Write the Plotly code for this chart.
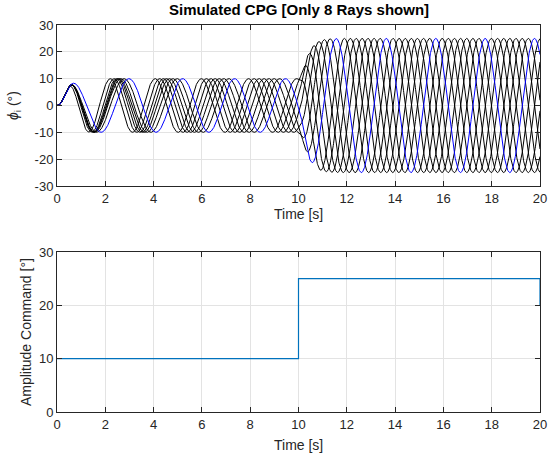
import numpy as np
import plotly.graph_objects as go

# ---- data ----
cmd_time = [0, 10, 10, 20, 20]          # amplitude command breakpoints [s]
cmd_value = [10, 10, 25, 25, 20]        # amplitude command [deg]

n_rays = 8                              # rays shown
cpg_freq_hz = 0.49                      # oscillation frequency
phase_lag_rad = 2 * np.pi / 8           # desired lag between neighbouring rays
coupling_w = 0.15                       # phase coupling weight
amp_gain_a = 10.0                       # amplitude convergence gain
ray_colors = ["black"] * 7 + ["blue"]

x_ticks = [0, 2, 4, 6, 8, 10, 12, 14, 16, 18, 20]
y1_ticks = [-30, -20, -10, 0, 10, 20, 30]
y2_ticks = [0, 10, 20, 30]

# ---- CPG simulation driven by the amplitude command ----
dt = 0.001
t_end = 20.0
n_steps = int(round(t_end / dt))
record_every = 10
cmd_t = np.array(cmd_time, dtype=float)
cmd_v = np.array(cmd_value, dtype=float)


def command(t):
    idx = np.searchsorted(cmd_t, t + 1e-12, side="right") - 1
    return cmd_v[max(idx, 0)]


omega = 2 * np.pi * cpg_freq_hz
theta = np.zeros(n_rays)
r = np.zeros(n_rays)
rd = np.zeros(n_rays)
times = []
outs = []
for k in range(n_steps + 1):
    t = k * dt
    if k % record_every == 0:
        times.append(t)
        outs.append(r * np.sin(theta))
    R = command(t)
    c = np.zeros(n_rays)
    c[:-1] += coupling_w * r[1:] * np.sin(theta[1:] - theta[:-1] + phase_lag_rad)
    c[1:] += coupling_w * r[:-1] * np.sin(theta[:-1] - theta[1:] - phase_lag_rad)
    dtheta = omega + c
    rdd = amp_gain_a * (amp_gain_a / 4.0 * (R - r) - rd)
    theta = theta + dt * dtheta
    r = r + dt * rd
    rd = rd + dt * rdd
times = np.array(times)
outs = np.array(outs)

fig = go.Figure()
order = [i for i in range(n_rays) if ray_colors[i] != "blue"] + \
        [i for i in range(n_rays) if ray_colors[i] == "blue"]
for i in order:
    fig.add_trace(go.Scatter(x=times, y=outs[:, i], mode="lines",
                             line=dict(color=ray_colors[i], width=1),
                             showlegend=False, xaxis="x", yaxis="y"))

fig.add_trace(go.Scatter(x=cmd_time, y=cmd_value, mode="lines",
                         line=dict(color="#0072BD", width=1.2),
                         showlegend=False, xaxis="x2", yaxis="y2"))

ax_col = "#262626"
grid_col = "#e3e3e3"
fam = "Liberation Sans, Arial, sans-serif"
font = dict(family=fam, size=13, color=ax_col)
label_font = dict(family=fam, size=14, color=ax_col)
common = dict(showline=True, linecolor=ax_col, linewidth=1, mirror="ticks",
              ticks="inside", ticklen=5, tickcolor=ax_col, tickwidth=1,
              showgrid=True, gridcolor=grid_col, gridwidth=1, zeroline=False,
              tickfont=font)

fig.update_layout(
    width=555, height=455,
    margin=dict(l=57, r=8, t=25, b=43),
    paper_bgcolor="white", plot_bgcolor="white",
    font=font,
    xaxis=dict(domain=[0, 1], range=[0, 20], tickvals=x_ticks,
               ticktext=[str(v) for v in x_ticks], anchor="y", **common),
    yaxis=dict(domain=[0.584, 1], range=[-30, 30], tickvals=y1_ticks,
               ticktext=[str(v) for v in y1_ticks], anchor="x", **common),
    xaxis2=dict(domain=[0, 1], range=[0, 20], tickvals=x_ticks,
                ticktext=[str(v) for v in x_ticks], anchor="y2", **common),
    yaxis2=dict(domain=[0, 0.4134], range=[0, 30], tickvals=y2_ticks,
                ticktext=[str(v) for v in y2_ticks], anchor="x2", **common),
    annotations=[
        dict(text="<b>Simulated CPG [Only 8 Rays shown]</b>", x=0.5, y=1.039,
             xref="paper", yref="paper", showarrow=False, xanchor="center",
             yanchor="middle", font=dict(family=fam, size=15, color="black")),
        dict(text="Time [s]", x=0.5, y=0.5116, xref="paper", yref="paper",
             showarrow=False, xanchor="center", yanchor="middle", font=label_font),
        dict(text="Time [s]", x=0.5, y=-0.0853, xref="paper", yref="paper",
             showarrow=False, xanchor="center", yanchor="middle", font=label_font),
        dict(text="<i>ϕ</i><sub>i</sub> (°)", x=-0.088, y=0.792, xref="paper", yref="paper",
             showarrow=False, xanchor="center", yanchor="middle", textangle=-90,
             font=label_font),
        dict(text="Amplitude Command [°]", x=-0.064, y=0.2067, xref="paper", yref="paper",
             showarrow=False, xanchor="center", yanchor="middle", textangle=-90,
             font=label_font),
    ],
)

fig.write_html("out.html", config={"displayModeBar": False},
               post_script="document.body.style.margin='0';document.body.style.overflow='hidden';")
